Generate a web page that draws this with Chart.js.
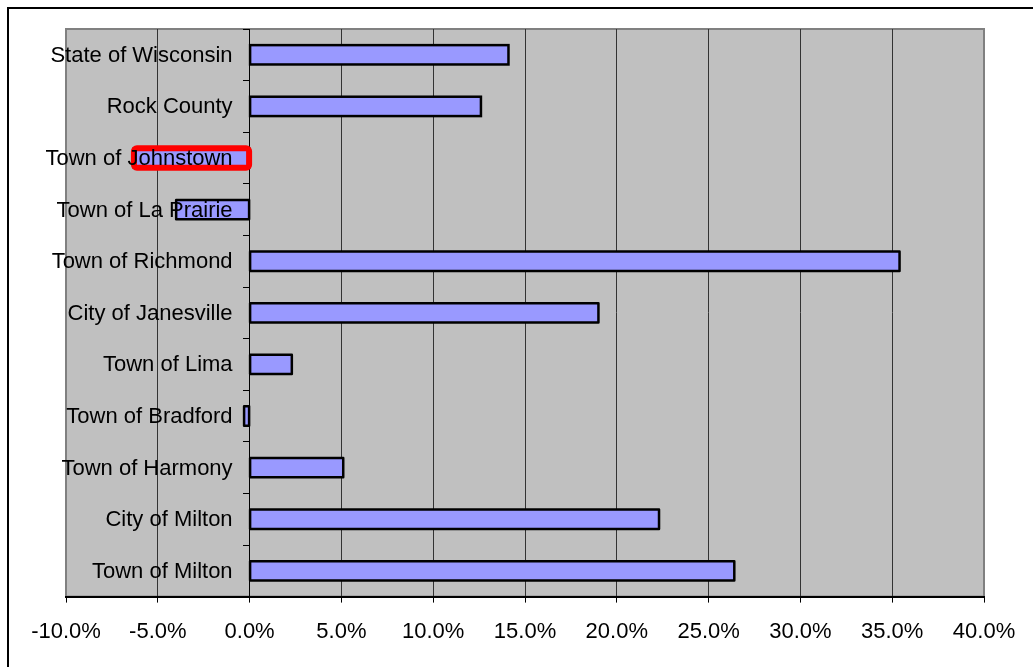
<!DOCTYPE html>
<html>
<head>
<meta charset="utf-8">
<script src="https://cdn.jsdelivr.net/npm/chart.js@4"></script>
<style>
html,body{margin:0;padding:0;background:#fff;}
canvas{display:block;}
</style>
</head>
<body>
<canvas id="c" width="1033" height="667"></canvas>
<script>
const categories = ["State of Wisconsin","Rock County","Town of Johnstown","Town of La Prairie","Town of Richmond","City of Janesville","Town of Lima","Town of Bradford","Town of Harmony","City of Milton","Town of Milton"];
const changePct = [14.1, 12.6, -6.3, -4.0, 35.4, 19.0, 2.3, -0.3, 5.1, 22.3, 26.4];
const highlighted = ["Town of Johnstown"];
const xMin = -10, xMax = 40, xStep = 5;

const FONT = "'Liberation Sans', Arial, sans-serif";
const FONT_SIZE = 22;

const frame = {
  id: 'frame',
  beforeDraw(chart) {
    const {ctx, chartArea: a} = chart;
    ctx.save();
    ctx.fillStyle = '#fff';
    ctx.fillRect(0, 0, chart.width, chart.height);
    ctx.strokeStyle = '#000';
    ctx.lineWidth = 2;
    ctx.beginPath();
    ctx.moveTo(8, chart.height);
    ctx.lineTo(8, 8);
    ctx.lineTo(chart.width, 8);
    ctx.stroke();
    ctx.fillStyle = '#C0C0C0';
    ctx.fillRect(a.left, a.top, a.right - a.left, a.bottom - a.top);
    ctx.strokeStyle = '#808080';
    ctx.lineWidth = 2;
    ctx.strokeRect(a.left, a.top, a.right - a.left, a.bottom - a.top);
    ctx.restore();
  },
  afterDatasetsDraw(chart) {
    const {ctx} = chart;
    const meta = chart.getDatasetMeta(0);
    ctx.save();
    meta.data.forEach((el, i) => {
      const p = el.getProps(['x','y','base','height'], true);
      const l = Math.min(p.x, p.base), r = Math.max(p.x, p.base);
      const t = p.y - p.height / 2, b = p.y + p.height / 2;
      ctx.strokeStyle = '#000';
      ctx.lineWidth = 2.5;
      ctx.strokeRect(l, t, r - l, b - t);
      if (highlighted.includes(categories[i])) {
        ctx.strokeStyle = '#FF0000';
        ctx.lineWidth = 6;
        ctx.lineJoin = 'round';
        ctx.beginPath();
        ctx.roundRect(l, t, r - l, b - t, 3);
        ctx.stroke();
      }
    });
    // category labels placed next to the category axis (which crosses at 0)
    const xs = chart.scales.x, ys = chart.scales.y;
    const x0 = xs.getPixelForValue(0);
    ctx.fillStyle = '#000';
    ctx.font = FONT_SIZE + "px " + FONT;
    ctx.textAlign = 'right';
    ctx.textBaseline = 'middle';
    categories.forEach((lab, i) => {
      ctx.fillText(lab, x0 - 17, ys.getPixelForTick(i) + 1);
    });
    ctx.restore();
  }
};

new Chart(document.getElementById('c'), {
  type: 'bar',
  data: {
    labels: categories,
    datasets: [{
      data: changePct,
      backgroundColor: '#9999FF',
      borderWidth: 0,
      barPercentage: 0.375,
      categoryPercentage: 1
    }]
  },
  options: {
    indexAxis: 'y',
    responsive: false,
    animation: false,
    layout: {padding: {left: 66, top: 29, right: 49, bottom: 6}},
    plugins: {legend: {display: false}, tooltip: {enabled: false}},
    scales: {
      x: {
        type: 'linear',
        min: xMin, max: xMax,
        ticks: {
          stepSize: xStep,
          color: '#000',
          font: {family: FONT, size: FONT_SIZE},
          padding: 16,
          callback: v => v.toFixed(1) + '%'
        },
        grid: {
          color: c => (c.tick && (c.tick.value === xMin || c.tick.value === xMax)) ? 'rgba(0,0,0,0)' : '#333',
          tickColor: '#000',
          lineWidth: 1,
          tickLength: 6
        },
        border: {display: true, color: '#000', width: 2}
      },
      y: {
        type: 'category',
        position: {x: 0},
        ticks: {display: false},
        grid: {
          display: true,
          drawOnChartArea: false,
          drawTicks: true,
          tickLength: 6,
          tickColor: '#000',
          offset: true
        },
        border: {display: true, color: '#000', width: 1}
      }
    }
  },
  plugins: [frame]
});
</script>
</body>
</html>
